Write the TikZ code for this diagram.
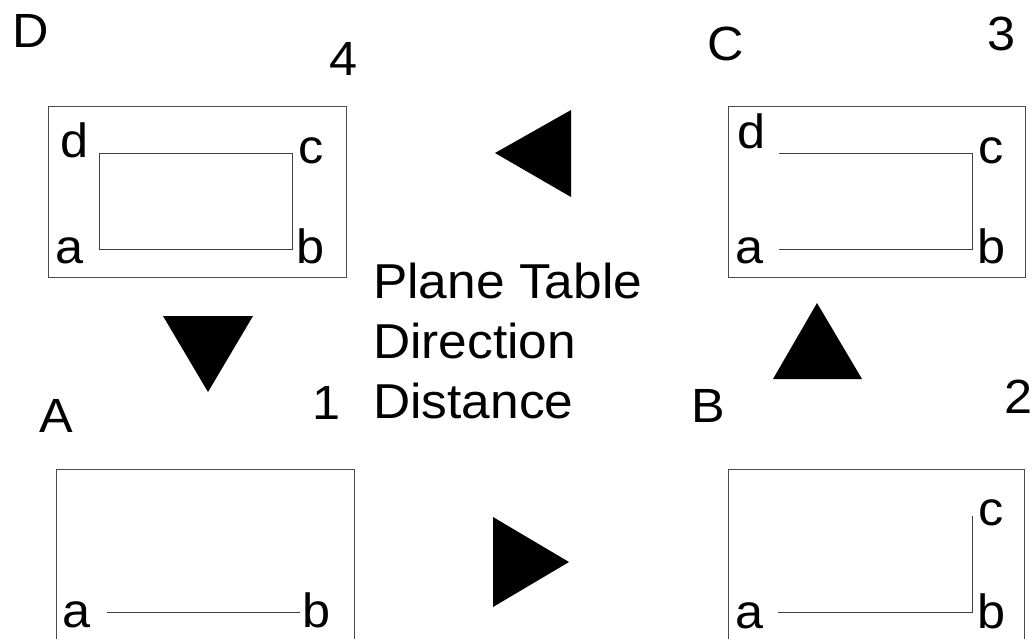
\documentclass[tikz,border=0pt]{standalone}
\usepackage{fontspec}
\setmainfont[FakeStretch=1.05]{Liberation Sans}
\begin{document}
\begin{tikzpicture}[x=1pt,y=-1pt,
  lbl/.style={inner sep=0pt,anchor=base,font=\fontsize{48}{48}\selectfont},
  frame/.style={draw=black!70,line width=1pt},
  trace/.style={draw=black!75,line width=1pt},
  tri/.style={fill=black}]
\useasboundingbox (0,0) rectangle (1032,638);
\clip (0,0) rectangle (1032,638);

% ---- Station D (4) ----
\node[lbl] (Dlab) at (31,47) {D};
\node[lbl] (n4) at (344,75) {4};
\draw[frame] (48.5,106.5) rectangle (346.5,277.5);
\node[lbl] (Dd) at (75,157) {d};
\node[lbl] (Dc) at (311,163) {c};
\node[lbl] (Da) at (70,263) {a};
\node[lbl] (Db) at (311,263) {b};
\coordinate (Dpa) at (99,249.5);
\coordinate (Dpb) at (292.5,249.5);
\coordinate (Dpc) at (292.5,153.5);
\coordinate (Dpd) at (99,153.5);
\draw[trace] (Dpa) -- (Dpb) -- (Dpc) -- (Dpd) -- cycle;

% ---- Station C (3) ----
\node[lbl] (Clab) at (726,60) {C};
\node[lbl] (n3) at (1001,50) {3};
\draw[frame] (728.5,106.5) rectangle (1025,277.5);
\node[lbl] (Cd) at (752,148) {d};
\node[lbl] (Cc) at (991,163) {c};
\node[lbl] (Ca) at (750,263) {a};
\node[lbl] (Cb) at (991,263) {b};
\coordinate (Cpa) at (779,249.5);
\coordinate (Cpb) at (972,249.5);
\coordinate (Cpc) at (972,153.5);
\coordinate (Cpd) at (779,153.5);
\draw[trace] (Cpa) -- (Cpb) -- (Cpc) -- (Cpd);

% ---- Station A (1) ----
\node[lbl] (Alab) at (56,432) {A};
\node[lbl] (n1) at (327,419) {1};
\draw[frame] (56.5,700) |- (354,469.5) -- (354,700);
\node[lbl] (Aa) at (77,627) {a};
\node[lbl] (Ab) at (317,627) {b};
\coordinate (Apa) at (107,612);
\coordinate (Apb) at (300,612);
\draw[trace] (Apa) -- (Apb);

% ---- Station B (2) ----
\node[lbl] (Blab) at (708,422) {B};
\node[lbl] (n2) at (1018,413) {2};
\draw[frame] (728.5,700) |- (1024,469.5) -- (1024,700);
\node[lbl] (Ba) at (750,628) {a};
\node[lbl] (Bc) at (991,525) {c};
\node[lbl] (Bb) at (991,628) {b};
\coordinate (Bpa) at (778,612);
\coordinate (Bpb) at (972,612);
\coordinate (Bpc) at (972,516);
\draw[trace] (Bpa) -- (Bpb) -- (Bpc);

% ---- centre text ----
\node[inner sep=0pt,anchor=base west,font=\fontsize{49}{49}\selectfont] (t1) at (373,298) {Plane Table};
\node[inner sep=0pt,anchor=base west,font=\fontsize{49}{49}\selectfont] (t2) at (373,358) {Direction};
\node[inner sep=0pt,anchor=base west,font=\fontsize{49}{49}\selectfont] (t3) at (373,418) {Distance};

% ---- direction triangles ----
\fill[tri] (163,316) -- (253,316) -- (208,392) -- cycle;
\fill[tri] (493,517) -- (493,607) -- (569,562) -- cycle;
\fill[tri] (817,303) -- (862,379) -- (773,379) -- cycle;
\fill[tri] (571,110) -- (571,197) -- (495,153) -- cycle;
\end{tikzpicture}
\end{document}
